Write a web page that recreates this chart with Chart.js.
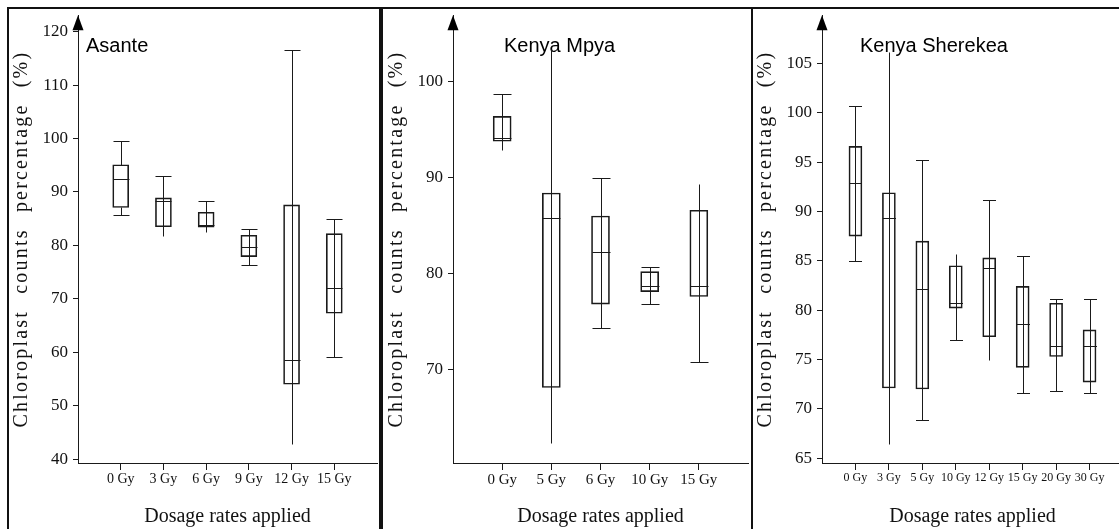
<!DOCTYPE html>
<html>
<head>
<meta charset="utf-8">
<title>Chloroplast counts percentage</title>
<script src="https://cdn.jsdelivr.net/npm/chart.js@4.4.0/dist/chart.umd.min.js"></script>
<style>
  html, body { margin: 0; padding: 0; background: #fff; overflow: hidden; }
  body { width: 1119px; height: 529px; position: relative; }
  canvas { position: absolute; top: 0; }
  .rule { position: absolute; background: #111; z-index: 2; }
</style>
</head>
<body>
<canvas id="asanteChart" width="370" height="529" style="left:9px"></canvas>
<canvas id="mpyaChart" width="365" height="529" style="left:384px"></canvas>
<canvas id="sherekeaChart" width="373" height="529" style="left:753px"></canvas>
<div class="rule" style="left:7px;top:7px;width:1112px;height:2px"></div>
<div class="rule" style="left:7px;top:7px;width:2px;height:522px"></div>
<div class="rule" style="left:379px;top:7px;width:4px;height:522px"></div>
<div class="rule" style="left:751px;top:7px;width:2px;height:522px"></div>

<script>
// ---- Asante ----
const ASANTE_DOSES   = ['0 Gy', '3 Gy', '6 Gy', '9 Gy', '12 Gy', '15 Gy'];
const ASANTE_MIN     = [85.6, 81.8, 82.6, 76.4, 42.8, 59.1];
const ASANTE_Q1      = [87.1, 83.5, 83.4, 77.9, 54.0, 67.3];
const ASANTE_MEDIAN  = [92.5, 88.4, 83.9, 79.7, 58.5, 72.0];
const ASANTE_Q3      = [95.1, 88.9, 86.2, 81.9, 87.6, 82.2];
const ASANTE_MAX     = [99.5, 93.0, 88.3, 83.1, 116.6, 84.9];
const ASANTE_CAP_TOP = [true, true, true, true, true, true];
const ASANTE_CAP_LOW = [true, false, false, true, false, true];
const ASANTE_THROUGH = [false, true, true, true, true, true];
const ASANTE_Y_TICKS = [40, 50, 60, 70, 80, 90, 100, 110, 120];

// ---- Kenya Mpya ----
const MPYA_DOSES   = ['0 Gy', '5 Gy', '6 Gy', '10 Gy', '15 Gy'];
const MPYA_MIN     = [92.9, 62.3, 74.3, 76.8, 70.8];
const MPYA_Q1      = [93.8, 68.1, 76.8, 78.1, 77.6];
const MPYA_MEDIAN  = [94.1, 85.8, 82.2, 78.7, 78.7];
const MPYA_Q3      = [96.4, 88.4, 86.0, 80.2, 86.6];
const MPYA_MAX     = [98.7, 103.4, 90.0, 80.7, 89.3];
const MPYA_CAP_TOP = [true, false, true, true, false];
const MPYA_CAP_LOW = [false, false, true, true, true];
const MPYA_THROUGH = [true, true, true, true, true];
const MPYA_Y_TICKS = [70, 80, 90, 100];

// ---- Kenya Sherekea ----
const SHEREKEA_DOSES   = ['0 Gy', '3 Gy', '5 Gy', '10 Gy', '12 Gy', '15 Gy', '20 Gy', '30 Gy'];
const SHEREKEA_MIN     = [85.0, 66.4, 68.9, 77.0, 74.9, 71.6, 71.8, 71.6];
const SHEREKEA_Q1      = [87.5, 72.1, 72.0, 80.2, 77.3, 74.2, 75.3, 72.7];
const SHEREKEA_MEDIAN  = [92.9, 89.3, 82.1, 80.7, 84.3, 78.6, 76.4, 76.4];
const SHEREKEA_Q3      = [96.6, 91.9, 87.0, 84.5, 85.3, 82.4, 80.7, 78.0];
const SHEREKEA_MAX     = [100.7, 106.2, 95.2, 85.7, 91.2, 85.5, 81.1, 81.1];
const SHEREKEA_CAP_TOP = [true, false, true, false, true, true, true, true];
const SHEREKEA_CAP_LOW = [true, false, true, true, false, true, true, true];
const SHEREKEA_THROUGH = [true, true, true, true, true, true, true, true];
const SHEREKEA_Y_TICKS = [65, 70, 75, 80, 85, 90, 95, 100, 105];

const Y_TITLE = 'Chloroplast counts percentage (%)';
const X_TITLE = 'Dosage rates applied';

const INK = '#1a1a1a';
const SERIF = '"Liberation Serif", "Times New Roman", serif';
const SANS = '"Liberation Sans", Arial, sans-serif';

const PANELS = [
    { canvas: 'asanteChart', title: 'Asante', titleDx: 8,
      doses: ASANTE_DOSES, min: ASANTE_MIN, q1: ASANTE_Q1, median: ASANTE_MEDIAN,
      q3: ASANTE_Q3, max: ASANTE_MAX, capTop: ASANTE_CAP_TOP, capLow: ASANTE_CAP_LOW,
      through: ASANTE_THROUGH,
      yTicks: ASANTE_Y_TICKS, yMin: 39.26, yMax: 123.1, boxWidth: 16, tickSize: 14, padRight: 2 },
    { canvas: 'mpyaChart', title: 'Kenya Mpya', titleDx: 51,
      doses: MPYA_DOSES, min: MPYA_MIN, q1: MPYA_Q1, median: MPYA_MEDIAN,
      q3: MPYA_Q3, max: MPYA_MAX, capTop: MPYA_CAP_TOP, capLow: MPYA_CAP_LOW,
      through: MPYA_THROUGH,
      yTicks: MPYA_Y_TICKS, yMin: 60.22, yMax: 106.96, boxWidth: 18, tickSize: 15, padRight: 1 },
    { canvas: 'sherekeaChart', title: 'Kenya Sherekea', titleDx: 38,
      doses: SHEREKEA_DOSES, min: SHEREKEA_MIN, q1: SHEREKEA_Q1, median: SHEREKEA_MEDIAN,
      q3: SHEREKEA_Q3, max: SHEREKEA_MAX, capTop: SHEREKEA_CAP_TOP, capLow: SHEREKEA_CAP_LOW,
      through: SHEREKEA_THROUGH,
      yTicks: SHEREKEA_Y_TICKS, yMin: 64.5, yMax: 109.9, boxWidth: 13, tickSize: 12, padRight: 3 },
];

// whiskers, medians, panel name, axis arrow and rotated y title
function boxPlotPlugin(p) {
    return {
        id: 'boxPlot',
        beforeDatasetsDraw(chart) {
            const { ctx, chartArea } = chart;
            ctx.save();
            ctx.fillStyle = '#000';
            ctx.font = '20px ' + SANS;
            ctx.textBaseline = 'alphabetic';
            ctx.fillText(p.title, chartArea.left + p.titleDx, 52);
            ctx.restore();
        },
        afterDatasetsDraw(chart) {
            const { ctx } = chart;
            const y = chart.scales.y;
            const meta = chart.getDatasetMeta(0);
            ctx.save();
            ctx.strokeStyle = INK;
            ctx.lineWidth = 1;
            p.median.forEach((m, i) => {
                const bar = meta.data[i + 1];
                if (!bar) return;
                const x = Math.round(bar.x) + 0.5;
                const half = bar.width / 2;
                const py = v => Math.round(y.getPixelForValue(v)) + 0.5;
                ctx.beginPath();
                if (p.through[i]) {
                    ctx.moveTo(x, py(p.max[i]));
                    ctx.lineTo(x, py(p.min[i]));
                } else {
                    ctx.moveTo(x, py(p.max[i]));
                    ctx.lineTo(x, py(p.q3[i]));
                    ctx.moveTo(x, py(p.q1[i]));
                    ctx.lineTo(x, py(p.min[i]));
                }
                // median
                ctx.moveTo(x - half, py(m));
                ctx.lineTo(x + half, py(m));
                if (p.capTop[i]) {
                    ctx.moveTo(x - half, py(p.max[i]));
                    ctx.lineTo(x + half, py(p.max[i]));
                }
                if (p.capLow[i]) {
                    ctx.moveTo(x - half, py(p.min[i]));
                    ctx.lineTo(x + half, py(p.min[i]));
                }
                ctx.stroke();
            });
            ctx.restore();
        },
        afterDraw(chart) {
            const { ctx, chartArea } = chart;
            ctx.save();
            // arrow head on the y axis
            const ax = chartArea.left;
            ctx.fillStyle = '#000';
            ctx.beginPath();
            ctx.moveTo(ax, chartArea.top);
            ctx.lineTo(ax - 5.5, chartArea.top + 15);
            ctx.lineTo(ax + 5.5, chartArea.top + 15);
            ctx.closePath();
            ctx.fill();
            // y title
            ctx.translate(chartArea.left - 51, (chartArea.top + chartArea.bottom) / 2);
            ctx.rotate(-Math.PI / 2);
            ctx.font = '20px ' + SERIF;
            ctx.letterSpacing = '2.2px';
            ctx.wordSpacing = '9px';
            ctx.textAlign = 'center';
            ctx.textBaseline = 'alphabetic';
            ctx.fillStyle = '#111';
            ctx.fillText(Y_TITLE, 0, 0);
            ctx.restore();
        }
    };
}

function initializePanel(p) {
    const ctx = document.getElementById(p.canvas);
    if (!ctx) return;

    // empty category on each side of the doses
    const labels = ['', ...p.doses, ''];
    const boxes = [null, ...p.q1.map((v, i) => [v, p.q3[i]]), null];

    new Chart(ctx, {
        type: 'bar',
        data: {
            labels: labels,
            datasets: [{
                data: boxes,
                backgroundColor: 'rgba(0,0,0,0)',
                borderColor: INK,
                borderWidth: 1,
                borderSkipped: false,
                barThickness: p.boxWidth,
            }]
        },
        options: {
            responsive: false,
            animation: false,
            events: [],
            layout: { padding: { top: 9, right: p.padRight, bottom: 0, left: 0 } },
            plugins: { legend: { display: false }, tooltip: { enabled: false } },
            scales: {
                x: {
                    offset: false,
                    grid: {
                        offset: false,
                        drawOnChartArea: false,
                        tickLength: 7,
                        tickColor: c => (c.tick && c.tick.label) ? INK : 'rgba(0,0,0,0)',
                    },
                    border: { color: INK, width: 1 },
                    ticks: { autoSkip: false, maxRotation: 0, padding: 1, color: '#111',
                             font: { family: SERIF, size: p.tickSize } },
                    title: { display: true, text: X_TITLE, color: '#111',
                             font: { family: SERIF, size: 20 }, padding: { top: 0, bottom: 0 } },
                    afterFit: s => { s.height = 66; }
                },
                y: {
                    min: p.yMin,
                    max: p.yMax,
                    afterBuildTicks: s => { s.ticks = p.yTicks.map(v => ({ value: v })); },
                    grid: { drawOnChartArea: false, tickLength: 5, tickColor: INK },
                    border: { color: INK, width: 1 },
                    ticks: { padding: 5, color: '#111', font: { family: SERIF, size: 17 } },
                    afterFit: s => { s.width = 69; }
                }
            }
        },
        plugins: [boxPlotPlugin(p)]
    });
}

window.onload = function() {
    PANELS.forEach(initializePanel);
};
</script>
</body>
</html>
